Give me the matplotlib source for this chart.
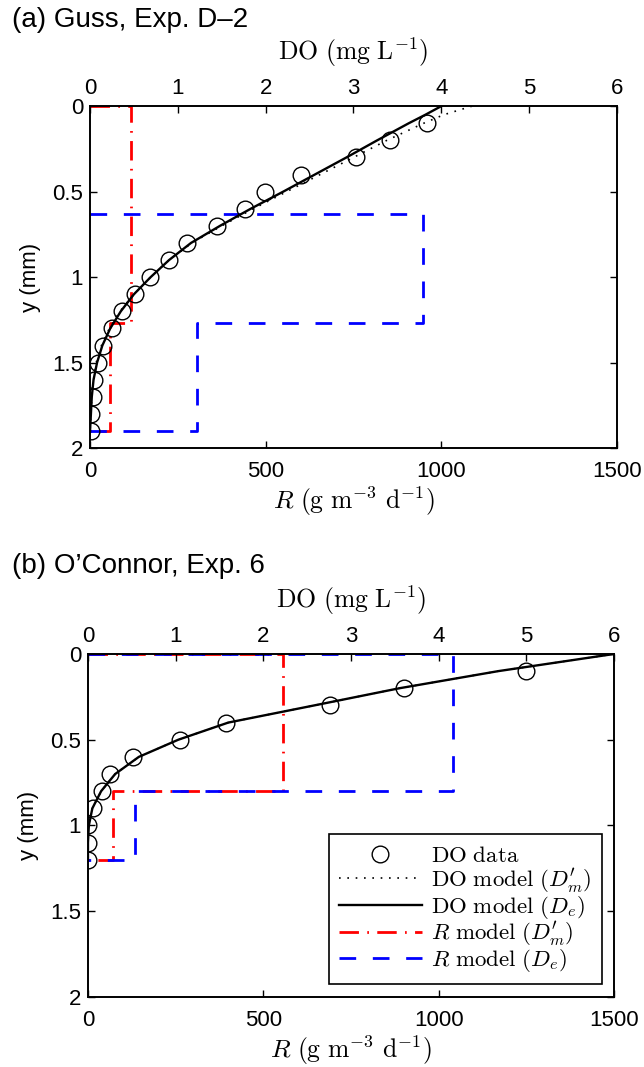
import numpy as np
import matplotlib
matplotlib.use('Agg')
import matplotlib.pyplot as plt
from matplotlib.lines import Line2D

plt.rcParams['font.family'] = ['Liberation Sans', 'DejaVu Sans']
plt.rcParams['mathtext.fontset'] = 'cm'

# ---------------- data: panel (a) Guss, Exp. D-2 ----------------
y_obs_a = [0.1, 0.2, 0.3, 0.4, 0.5, 0.6, 0.7, 0.8, 0.9, 1.0,
           1.1, 1.2, 1.3, 1.4, 1.5, 1.6, 1.7, 1.8, 1.9]
do_obs_a = [3.84, 3.42, 3.03, 2.40, 1.99, 1.76, 1.45, 1.10, 0.90, 0.68,
            0.51, 0.36, 0.25, 0.15, 0.09, 0.05, 0.03, 0.01, 0.01]

y_mod_a = [0.0, 0.05, 0.1, 0.2, 0.3, 0.4, 0.5, 0.6, 0.7, 0.8, 0.9, 1.0,
           1.1, 1.2, 1.3, 1.4, 1.5, 1.6, 1.7, 1.8, 1.9]
do_dm_a = [4.35, 4.03, 3.80, 3.38, 3.00, 2.62, 2.24, 1.86, 1.50, 1.16, 0.90, 0.69,
           0.50, 0.34, 0.22, 0.13, 0.07, 0.04, 0.02, 0.01, 0.0]
do_de_a = [4.00, 3.82, 3.63, 3.27, 2.92, 2.56, 2.20, 1.83, 1.48, 1.15, 0.90, 0.69,
           0.50, 0.35, 0.23, 0.14, 0.08, 0.04, 0.02, 0.01, 0.0]

layers_a = [0.0, 0.633, 1.267, 1.9]
r_dm_a = [117, 117, 57]
r_de_a = [0, 948, 305]

# ---------------- data: panel (b) O'Connor, Exp. 6 ----------------
y_obs_b = [0.1, 0.2, 0.3, 0.4, 0.5, 0.6, 0.7, 0.8, 0.9, 1.0, 1.1, 1.2]
do_obs_b = [5.00, 3.60, 2.76, 1.57, 1.05, 0.51, 0.25, 0.16, 0.06, 0.0, 0.0, 0.0]

y_mod_b = [0.0, 0.1, 0.2, 0.3, 0.4, 0.5, 0.6, 0.7, 0.8, 0.9, 1.0, 1.1, 1.2]
do_dm_b = [6.0, 4.68, 3.55, 2.58, 1.60, 1.03, 0.58, 0.31, 0.15, 0.05, 0.01, 0.0, 0.0]
do_de_b = [6.0, 4.68, 3.55, 2.58, 1.60, 1.03, 0.58, 0.31, 0.15, 0.05, 0.01, 0.0, 0.0]

layers_b = [0.0, 0.4, 0.8, 1.2]
r_dm_b = [555, 555, 72]
r_de_b = [1040, 1040, 134]

r_ticks = [0, 500, 1000, 1500]
do_ticks = [0, 1, 2, 3, 4, 5, 6]
y_ticks = [0, 0.5, 1, 1.5, 2]
y_ticklabels = ['0', '0.5', '1', '1.5', '2']

red_style = dict(color='#ff0000', lw=2.0, dashes=(7, 3, 0.6, 3))
blue_style = dict(color='#0000ff', lw=2.0, dashes=(6, 6))
fs_tick = 16
fs_lab = 18.5


def step_path(layers, rates):
    xs, ys = [0], [layers[0]]
    for i, r in enumerate(rates):
        xs += [r, r]
        ys += [layers[i], layers[i + 1]]
    xs.append(0)
    ys.append(layers[-1])
    # skip the leading part that lies on the left axis (R = 0)
    while len(xs) > 2 and xs[0] == 0 and xs[1] == 0:
        xs, ys = xs[1:], ys[1:]
    return xs, ys


def panel(rect, title, title_y, y_obs, do_obs, y_mod, do_dm, do_de,
          layers, r_dm, r_de, legend=False):
    ax = fig.add_axes(rect)
    ax2 = ax.twiny()

    xs, ys = step_path(layers, r_dm)
    ax.plot(xs, ys, **red_style)
    xs, ys = step_path(layers, r_de)
    ax.plot(xs, ys, **blue_style)

    ax2.plot(do_dm, y_mod, color='k', lw=1.2, dashes=(1, 4))
    ax2.plot(do_de, y_mod, color='k', lw=1.7)
    ax2.plot(do_obs, y_obs, 'o', ms=12, mfc='none', mec='k', mew=1.0)

    ax.set_xlim(0, 1500)
    ax2.set_xlim(0, 6)
    ax.set_ylim(2, 0)
    ax.set_xticks(r_ticks)
    ax.set_xticklabels([str(t) for t in r_ticks])
    ax2.set_xticks(do_ticks)
    ax2.set_xticklabels([str(t) for t in do_ticks])
    ax.set_yticks(y_ticks)
    ax.set_yticklabels(y_ticklabels)

    ax.tick_params(direction='in', length=5, width=1, labelsize=fs_tick,
                   right=True, top=False)
    ax.tick_params(axis='x', pad=9)
    ax.tick_params(axis='y', pad=5)
    ax2.tick_params(direction='in', length=5, width=1, labelsize=fs_tick, pad=5)
    for a in (ax, ax2):
        for s in a.spines.values():
            s.set_linewidth(1.2)

    ax.set_xlabel(r'$R\ \mathrm{(g\ m^{-3}\ d^{-1})}$', fontsize=fs_lab, labelpad=2)
    ax2.set_xlabel(r'$\mathrm{DO\ (mg\ L^{-1})}$', fontsize=fs_lab, labelpad=13)
    ax.set_ylabel('y (mm)', fontsize=fs_tick, labelpad=8)

    fig.text(0.018, title_y, title, fontsize=20, va='center', ha='left')

    if legend:
        handles = [
            Line2D([], [], ls='none', marker='o', ms=12, mfc='none', mec='k', mew=1.0),
            Line2D([], [], color='k', lw=1.2, dashes=(1, 4)),
            Line2D([], [], color='k', lw=1.7),
            Line2D([], [], **red_style),
            Line2D([], [], **blue_style),
        ]
        labels = [r'$\mathrm{DO\ data}\;\;\;$',
                  r'$\mathrm{DO\ model}\ (D^{\prime}_m)\;\;\;$',
                  r'$\mathrm{DO\ model}\ (D_e)\;\;\;$',
                  r'$R\ \mathrm{model}\ (D^{\prime}_m)\;\;\;$',
                  r'$R\ \mathrm{model}\ (D_e)\;\;\;$']
        leg = ax.legend(handles, labels, loc='lower right', fontsize=16.5,
                        handlelength=3.6, handletextpad=0.4, labelspacing=-0.05,
                        borderaxespad=0.55, borderpad=0.45,
                        fancybox=False, framealpha=1, edgecolor='k')
        leg.get_frame().set_linewidth(1.2)
    return ax


fig = plt.figure(figsize=(6.44, 10.67), dpi=100)

panel([0.1398, 0.580, 0.818, 0.3205], '(a) Guss, Exp. D\u20132', 1 - 20 / 1067,
      y_obs_a, do_obs_a, y_mod_a, do_dm_a, do_de_a, layers_a, r_dm_a, r_de_a)
panel([0.1366, 0.0656, 0.817, 0.3215], '(b) O\u2019Connor, Exp. 6', 1 - 566 / 1067,
      y_obs_b, do_obs_b, y_mod_b, do_dm_b, do_de_b, layers_b, r_dm_b, r_de_b,
      legend=True)

fig.savefig('out.png', dpi=100)
